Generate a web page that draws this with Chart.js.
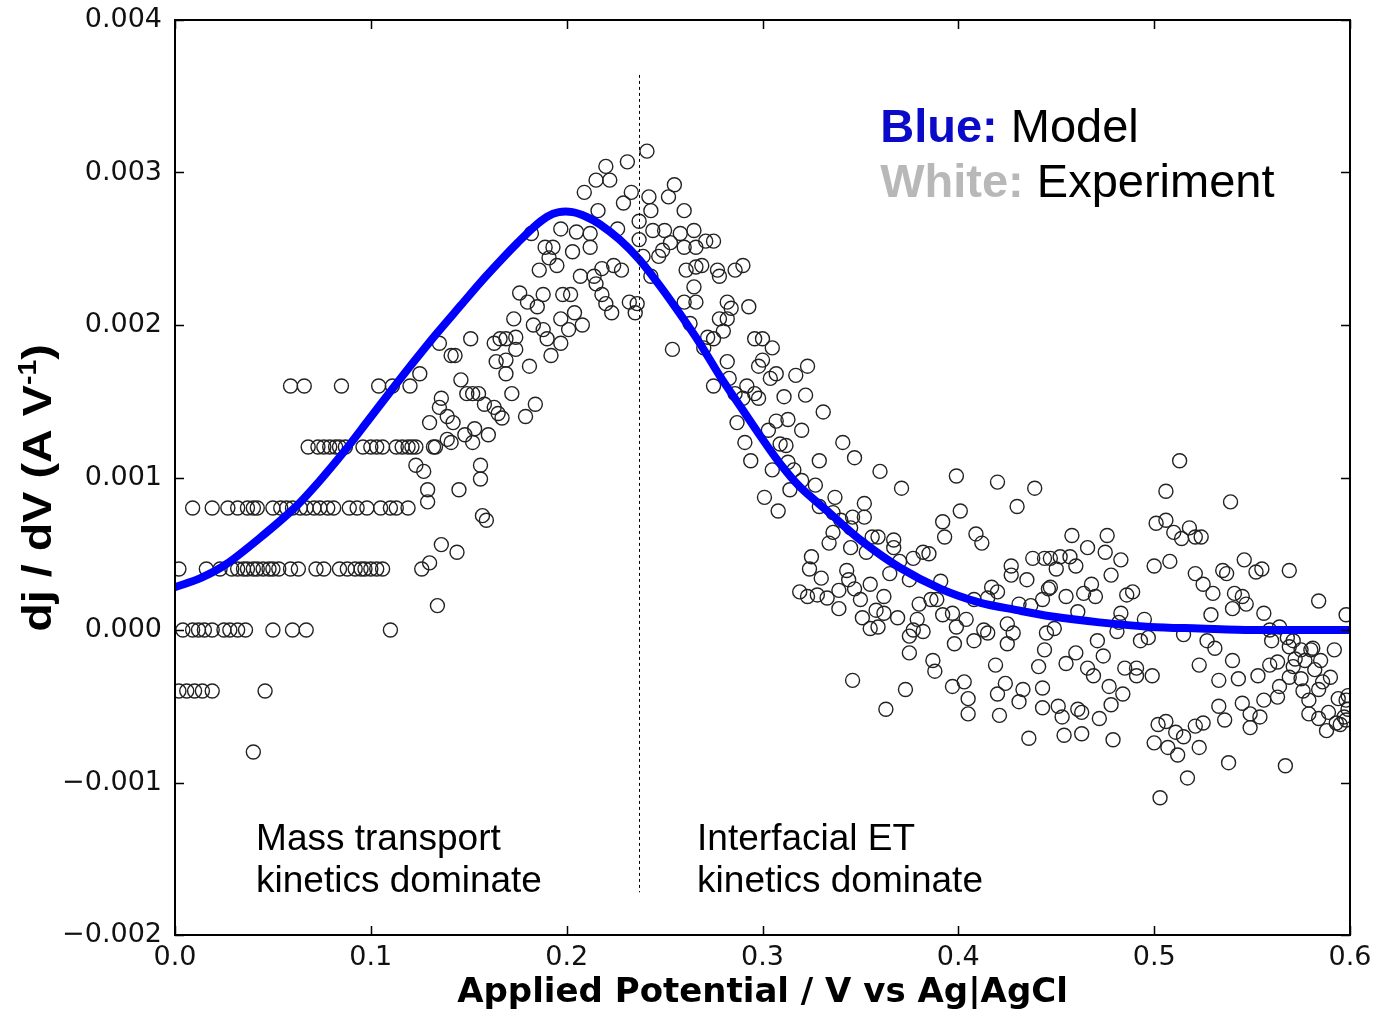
<!DOCTYPE html>
<html>
<head>
<meta charset="utf-8">
<title>dj/dV vs Applied Potential</title>
<script src="https://cdn.jsdelivr.net/npm/chart.js@4.4.1/dist/chart.umd.min.js"></script>
<style>
  html, body { margin: 0; padding: 0; background: #fff; }
  #wrap { width: 1375px; height: 1009px; }
</style>
</head>
<body>
<div id="wrap"><canvas id="grafico" width="1375" height="1009"></canvas></div>
<script>
'use strict';

// ---- datos ----

// curva del modelo (linea azul)
const modelPotential = [0.000, 0.013, 0.026, 0.043, 0.061, 0.074, 0.087, 0.099, 0.111, 0.122,
    0.134, 0.146, 0.156, 0.166, 0.175, 0.183, 0.190, 0.196, 0.203, 0.210,
    0.217, 0.227, 0.237, 0.248, 0.258, 0.268, 0.278, 0.289, 0.299, 0.309,
    0.319, 0.334, 0.350, 0.370, 0.391, 0.411, 0.430, 0.447, 0.472, 0.498,
    0.523, 0.550, 0.600];
const modelDjdv = [0.00028, 0.00034, 0.00043, 0.00060, 0.00080, 0.00098, 0.00118, 0.00138, 0.00158, 0.00176,
    0.00195, 0.00213, 0.00228, 0.00242, 0.00254, 0.00264, 0.00271, 0.00274, 0.00274, 0.00271,
    0.00266, 0.00256, 0.00243, 0.00225, 0.00207, 0.00188, 0.00167, 0.00146, 0.00127, 0.00109,
    0.00094, 0.00077, 0.00059, 0.00041, 0.00027, 0.00018, 0.00013, 0.00009, 0.00005, 0.00002,
    0.00001, 0.00000, 0.00000];

// puntos experimentales que caen en los escalones de corriente (potencial bajo)
const stepLevels = [0.0016, 0.0012, 0.0008, 0.0004, 0.0, -0.0004, -0.0008];
const stepPotentials = [
    [0.059, 0.066, 0.085, 0.104, 0.111, 0.120],
    [0.068, 0.073, 0.076, 0.079, 0.082, 0.084, 0.087, 0.096, 0.100, 0.103, 0.106, 0.113, 0.116, 0.119, 0.121, 0.123, 0.133],
    [0.009, 0.019, 0.027, 0.032, 0.037, 0.040, 0.042, 0.050, 0.054, 0.057, 0.060, 0.064, 0.067, 0.071, 0.074, 0.078, 0.081, 0.089, 0.093, 0.098, 0.105, 0.110, 0.113, 0.119],
    [0.002, 0.016, 0.023, 0.029, 0.032, 0.035, 0.037, 0.040, 0.042, 0.045, 0.048, 0.050, 0.053, 0.059, 0.063, 0.072, 0.076, 0.084, 0.088, 0.092, 0.095, 0.097, 0.100, 0.103, 0.106],
    [0.004, 0.009, 0.012, 0.015, 0.019, 0.025, 0.028, 0.032, 0.036, 0.050, 0.060, 0.067, 0.110],
    [0.002, 0.006, 0.010, 0.014, 0.019, 0.046],
    [0.040]
];

// resto de puntos experimentales [potencial, dj/dV]
const expRising = [
    [0.220, 0.00304], [0.231, 0.00307], [0.241, 0.00314], [0.215, 0.00295], [0.222, 0.00295],
    [0.209, 0.00287], [0.216, 0.00275], [0.233, 0.00287], [0.229, 0.00280], [0.242, 0.00284],
    [0.255, 0.00292], [0.252, 0.00284], [0.243, 0.00275], [0.260, 0.00275], [0.182, 0.00260],
    [0.197, 0.00263], [0.205, 0.00261], [0.212, 0.00260], [0.189, 0.00251], [0.193, 0.00251],
    [0.203, 0.00248], [0.212, 0.00251], [0.226, 0.00263], [0.237, 0.00268], [0.237, 0.00256],
    [0.244, 0.00262], [0.250, 0.00262], [0.258, 0.00260], [0.265, 0.00262], [0.260, 0.00251],
    [0.266, 0.00251], [0.191, 0.00244], [0.195, 0.00239], [0.186, 0.00236], [0.207, 0.00232],
    [0.214, 0.00232], [0.218, 0.00237], [0.224, 0.00239], [0.228, 0.00236], [0.215, 0.00227],
    [0.239, 0.00245], [0.247, 0.00245], [0.249, 0.00249], [0.253, 0.00254], [0.243, 0.00232],
    [0.261, 0.00236], [0.266, 0.00238], [0.176, 0.00221], [0.188, 0.00220], [0.198, 0.00220],
    [0.202, 0.00220], [0.180, 0.00215], [0.185, 0.00212], [0.218, 0.00220], [0.220, 0.00214],
    [0.223, 0.00208], [0.232, 0.00215], [0.236, 0.00214], [0.235, 0.00208], [0.254, 0.00184],
    [0.260, 0.00215], [0.265, 0.00225], [0.266, 0.00215], [0.263, 0.00201], [0.173, 0.00204],
    [0.183, 0.00200], [0.188, 0.00197], [0.190, 0.00191], [0.197, 0.00204], [0.204, 0.00208],
    [0.201, 0.00197], [0.208, 0.00200], [0.197, 0.00188], [0.192, 0.00180], [0.163, 0.00188],
    [0.166, 0.00191], [0.169, 0.00191], [0.174, 0.00192], [0.174, 0.00184], [0.164, 0.00176],
    [0.169, 0.00177], [0.169, 0.00168], [0.181, 0.00173], [0.151, 0.00191], [0.135, 0.00188],
    [0.141, 0.00180], [0.143, 0.00180], [0.125, 0.00168], [0.146, 0.00164], [0.149, 0.00155],
    [0.152, 0.00155], [0.155, 0.00155], [0.172, 0.00155], [0.158, 0.00148], [0.163, 0.00146],
    [0.165, 0.00142], [0.167, 0.00139], [0.179, 0.00140], [0.184, 0.00148], [0.136, 0.00152],
    [0.135, 0.00146], [0.139, 0.00140], [0.142, 0.00136], [0.130, 0.00136], [0.153, 0.00132],
    [0.148, 0.00128], [0.152, 0.00123], [0.141, 0.00123], [0.160, 0.00128], [0.132, 0.00120],
    [0.123, 0.00108], [0.127, 0.00104], [0.156, 0.00108], [0.156, 0.00099], [0.129, 0.00092],
    [0.129, 0.00084], [0.145, 0.00092], [0.157, 0.00075], [0.159, 0.00072], [0.136, 0.00056],
    [0.144, 0.00051], [0.126, 0.00040], [0.130, 0.00044], [0.134, 0.00016], [0.139, 0.00125]
];

const expFalling = [
    [0.271, 0.00255], [0.275, 0.00255], [0.269, 0.00239], [0.277, 0.00236], [0.278, 0.00232],
    [0.286, 0.00236], [0.290, 0.00239], [0.282, 0.00215], [0.284, 0.00211], [0.293, 0.00212],
    [0.278, 0.00204], [0.282, 0.00204], [0.280, 0.00196], [0.272, 0.00192], [0.275, 0.00191],
    [0.270, 0.00185], [0.296, 0.00191], [0.300, 0.00191], [0.305, 0.00185], [0.282, 0.00176],
    [0.298, 0.00173], [0.300, 0.00177], [0.304, 0.00165], [0.307, 0.00168], [0.317, 0.00167],
    [0.323, 0.00173], [0.283, 0.00165], [0.275, 0.00160], [0.292, 0.00160], [0.296, 0.00155],
    [0.290, 0.00152], [0.298, 0.00152], [0.286, 0.00155], [0.311, 0.00153], [0.322, 0.00154],
    [0.331, 0.00143], [0.287, 0.00136], [0.303, 0.00131], [0.307, 0.00137], [0.313, 0.00138],
    [0.320, 0.00131], [0.291, 0.00123], [0.309, 0.00122], [0.312, 0.00121], [0.341, 0.00123],
    [0.294, 0.00111], [0.305, 0.00105], [0.313, 0.00110], [0.316, 0.00105], [0.329, 0.00111],
    [0.347, 0.00113], [0.327, 0.00095], [0.320, 0.00098], [0.314, 0.00092], [0.337, 0.00087],
    [0.301, 0.00087], [0.308, 0.00078], [0.329, 0.00081], [0.336, 0.00077], [0.346, 0.00074]
];

const expTail = [
    [0.360, 0.00104], [0.371, 0.00093], [0.399, 0.00101], [0.420, 0.00097], [0.439, 0.00093],
    [0.352, 0.00083], [0.352, 0.00074], [0.340, 0.00072], [0.345, 0.00067], [0.392, 0.00071],
    [0.393, 0.00061], [0.401, 0.00078], [0.409, 0.00063], [0.412, 0.00057], [0.430, 0.00081],
    [0.334, 0.00057], [0.336, 0.00064], [0.345, 0.00054], [0.356, 0.00061], [0.359, 0.00061],
    [0.353, 0.00051], [0.367, 0.00059], [0.367, 0.00054], [0.377, 0.00047], [0.382, 0.00051],
    [0.385, 0.00050], [0.370, 0.00045], [0.365, 0.00037], [0.375, 0.00033], [0.391, 0.00032],
    [0.325, 0.00048], [0.324, 0.00040], [0.330, 0.00034], [0.319, 0.00025], [0.323, 0.00022],
    [0.328, 0.00023], [0.333, 0.00021], [0.339, 0.00026], [0.339, 0.00014], [0.343, 0.00039],
    [0.344, 0.00033], [0.347, 0.00027], [0.350, 0.00020], [0.355, 0.00030], [0.362, 0.00022],
    [0.358, 0.00013], [0.362, 0.00011], [0.351, 0.00008], [0.355, 0.00001], [0.359, 0.00002],
    [0.369, 0.00008], [0.380, 0.00017], [0.386, 0.00020], [0.389, 0.00020], [0.379, 0.00007],
    [0.377, 0.00000], [0.375, -0.00004], [0.382, -0.00001], [0.392, 0.00010], [0.397, 0.00011],
    [0.399, 0.00002], [0.404, 0.00007], [0.398, -0.00009], [0.408, -0.00007], [0.413, 0.00000],
    [0.415, -0.00002], [0.417, 0.00028], [0.425, 0.00004], [0.428, -0.00002], [0.425, -0.00009],
    [0.427, 0.00042], [0.427, 0.00036], [0.435, 0.00033], [0.438, 0.00047], [0.375, -0.00015],
    [0.387, -0.00020], [0.388, -0.00027], [0.346, -0.00033], [0.373, -0.00039], [0.363, -0.00052],
    [0.397, -0.00037], [0.403, -0.00034], [0.405, -0.00045], [0.405, -0.00055], [0.419, -0.00023],
    [0.420, -0.00042], [0.424, -0.00035], [0.421, -0.00056], [0.431, -0.00047], [0.433, -0.00039],
    [0.436, -0.00071], [0.441, -0.00024], [0.443, -0.00038], [0.443, -0.00051], [0.445, -0.00002],
    [0.444, -0.00013], [0.446, 0.00027], [0.443, 0.00020], [0.444, 0.00047], [0.420, 0.00025],
    [0.415, 0.00021], [0.431, 0.00017], [0.437, 0.00016], [0.408, 0.00020]
];

const expFlat = [
    [0.513, 0.00111], [0.506, 0.00091], [0.539, 0.00084], [0.458, 0.00062], [0.476, 0.00062],
    [0.466, 0.00054], [0.475, 0.00051], [0.483, 0.00046], [0.478, 0.00036], [0.501, 0.00070],
    [0.506, 0.00072], [0.510, 0.00064], [0.514, 0.00060], [0.518, 0.00067], [0.521, 0.00061],
    [0.524, 0.00061], [0.500, 0.00042], [0.508, 0.00045], [0.447, 0.00047], [0.452, 0.00048],
    [0.457, 0.00048], [0.450, 0.00040], [0.460, 0.00042], [0.447, 0.00028], [0.455, 0.00022],
    [0.464, 0.00024], [0.468, 0.00030], [0.470, 0.00022], [0.486, 0.00023], [0.489, 0.00025],
    [0.461, 0.00012], [0.449, 0.00001], [0.482, 0.00005], [0.483, 0.00011], [0.481, -0.00001],
    [0.471, -0.00007], [0.493, -0.00007], [0.497, -0.00005], [0.495, 0.00007], [0.515, -0.00003],
    [0.527, -0.00007], [0.531, -0.00012], [0.529, 0.00010], [0.460, -0.00015], [0.455, -0.00022],
    [0.474, -0.00017], [0.466, -0.00025], [0.469, -0.00030], [0.485, -0.00025], [0.491, -0.00025],
    [0.491, -0.00030], [0.499, -0.00030], [0.523, -0.00023], [0.533, -0.00033], [0.543, -0.00032],
    [0.540, -0.00020], [0.553, -0.00030], [0.559, -0.00023], [0.563, -0.00021], [0.564, -0.00037],
    [0.563, -0.00044], [0.569, -0.00031], [0.572, -0.00019], [0.575, -0.00032], [0.581, -0.00012],
    [0.585, -0.00020], [0.592, -0.00013], [0.576, -0.00040], [0.579, -0.00046], [0.586, -0.00034],
    [0.590, -0.00031], [0.579, -0.00055], [0.584, -0.00058], [0.589, -0.00054], [0.594, -0.00045],
    [0.597, -0.00057], [0.593, -0.00061], [0.588, -0.00066], [0.599, -0.00052], [0.584, 0.00019],
    [0.598, 0.00010], [0.451, -0.00050], [0.453, -0.00057], [0.461, -0.00052], [0.463, -0.00054],
    [0.454, -0.00069], [0.463, -0.00068], [0.472, -0.00058], [0.477, -0.00037], [0.478, -0.00049],
    [0.484, -0.00042], [0.479, -0.00072], [0.500, -0.00074], [0.502, -0.00062], [0.506, -0.00060],
    [0.507, -0.00077], [0.511, -0.00067], [0.512, -0.00082], [0.515, -0.00070], [0.521, -0.00063],
    [0.525, -0.00061], [0.523, -0.00077], [0.517, -0.00097], [0.503, -0.00110], [0.533, -0.00050],
    [0.536, -0.00059], [0.545, -0.00048], [0.549, -0.00055], [0.554, -0.00057], [0.549, -0.00064],
    [0.556, -0.00046], [0.538, -0.00087], [0.567, -0.00089], [0.521, 0.00037], [0.525, 0.00030],
    [0.530, 0.00024], [0.535, 0.00039], [0.537, 0.00037], [0.541, 0.00024], [0.545, 0.00022],
    [0.547, 0.00017], [0.540, 0.00014], [0.546, 0.00046], [0.552, 0.00038], [0.555, 0.00040],
    [0.569, 0.00039], [0.556, 0.00011], [0.559, 0.00000], [0.564, 0.00002], [0.560, -0.00007],
    [0.568, -0.00005], [0.569, -0.00011], [0.575, -0.00013], [0.580, -0.00013], [0.599, -0.00043],
    [0.571, -0.00007], [0.577, -0.00020], [0.571, -0.00024], [0.582, -0.00026], [0.584, -0.00039],
    [0.598, -0.00059], [0.598, -0.00046], [0.595, -0.00062]
];

const xTicks = [0.0, 0.1, 0.2, 0.3, 0.4, 0.5, 0.6];
const yTicks = [-0.002, -0.001, 0.000, 0.001, 0.002, 0.003, 0.004];

// linea que separa los dos regimenes
const limiteRegimen = 0.237;
const limiteArriba = 0.00364;
const limiteAbajo = -0.00172;

// ---- armado de series ----

const puntosModelo = modelPotential.map((v, i) => ({ x: v, y: modelDjdv[i] }));

const puntosExp = [];
stepLevels.forEach((nivel, i) => {
    stepPotentials[i].forEach(v => puntosExp.push({ x: v, y: nivel }));
});
[expRising, expFalling, expTail, expFlat].forEach(grupo => {
    grupo.forEach(p => puntosExp.push({ x: p[0], y: p[1] }));
});

const fmtY = (v) => {
    let s = (Math.abs(v) < 1e-9 ? 0 : v).toFixed(3);
    return s.replace('-', '\u2212');
};

const dibujarTituloY = (ctx, cx, cy) => {
    const fBase = 'bold 41px "Liberation Sans", Arial, sans-serif';
    const fSup = 'bold 25px "Liberation Sans", Arial, sans-serif';
    ctx.save();
    ctx.translate(cx, cy);
    ctx.rotate(-Math.PI / 2);
    ctx.scale(1.14, 1);
    ctx.fillStyle = '#000';
    ctx.textBaseline = 'alphabetic';
    ctx.textAlign = 'left';
    ctx.font = fBase;
    let w1 = ctx.measureText('dj / dV (A V').width;
    let w3 = ctx.measureText(')').width;
    ctx.font = fSup;
    let w2 = ctx.measureText('-1').width;
    let x = -(w1 + w2 + w3) / 2;
    ctx.font = fBase;
    ctx.fillText('dj / dV (A V', x, 0);
    x += w1;
    ctx.font = fSup;
    ctx.fillText('-1', x, -15);
    x += w2;
    ctx.font = fBase;
    ctx.fillText(')', x, 0);
    ctx.restore();
};

const marcoPlugin = {
    id: 'marco',
    afterDatasetsDraw(chart) {
        const ctx = chart.ctx;
        const area = chart.chartArea;
        const sx = chart.scales.x;
        const sy = chart.scales.y;
        ctx.save();

        // separacion entre regimenes
        let bx = Math.round(sx.getPixelForValue(limiteRegimen)) + 0.5;
        ctx.strokeStyle = '#000';
        ctx.lineWidth = 1;
        ctx.setLineDash([3, 3]);
        ctx.beginPath();
        ctx.moveTo(bx, sy.getPixelForValue(limiteArriba));
        ctx.lineTo(bx, sy.getPixelForValue(limiteAbajo));
        ctx.stroke();
        ctx.setLineDash([]);

        // marcas hacia adentro en los cuatro lados
        ctx.lineWidth = 1.5;
        ctx.beginPath();
        xTicks.forEach(v => {
            let px = Math.round(sx.getPixelForValue(v)) + 0.5;
            ctx.moveTo(px, area.bottom); ctx.lineTo(px, area.bottom - 9);
            ctx.moveTo(px, area.top); ctx.lineTo(px, area.top + 9);
        });
        yTicks.forEach(v => {
            let py = Math.round(sy.getPixelForValue(v)) + 0.5;
            ctx.moveTo(area.left, py); ctx.lineTo(area.left + 9, py);
            ctx.moveTo(area.right, py); ctx.lineTo(area.right - 9, py);
        });
        ctx.stroke();

        // marco
        ctx.lineWidth = 2;
        ctx.strokeRect(area.left, area.top, area.right - area.left, area.bottom - area.top);

        // textos de las regiones
        ctx.fillStyle = '#000';
        ctx.textAlign = 'left';
        ctx.textBaseline = 'alphabetic';
        ctx.font = '37px "Liberation Sans", Arial, sans-serif';
        let xi = sx.getPixelForValue(0.0414);
        let xd = sx.getPixelForValue(0.2666);
        let y1 = sy.getPixelForValue(-0.00144);
        let y2 = sy.getPixelForValue(-0.00172);
        ctx.fillText('Mass transport', xi, y1);
        ctx.fillText('kinetics dominate', xi, y2);
        ctx.fillText('Interfacial ET', xd, y1);
        ctx.fillText('kinetics dominate', xd, y2);

        // leyenda escrita
        let xl = sx.getPixelForValue(0.3601);
        let ya = sy.getPixelForValue(0.00320);
        let yb = sy.getPixelForValue(0.00284);
        ctx.font = 'bold 47px "Liberation Sans", Arial, sans-serif';
        ctx.fillStyle = '#0a0ac8';
        ctx.fillText('Blue:', xl, ya);
        let wa = ctx.measureText('Blue: ').width;
        ctx.fillStyle = '#b8b8b8';
        ctx.fillText('White:', xl, yb);
        let wb = ctx.measureText('White: ').width;
        ctx.font = '47px "Liberation Sans", Arial, sans-serif';
        ctx.fillStyle = '#000';
        ctx.fillText('Model', xl + wa, ya);
        ctx.fillText('Experiment', xl + wb, yb);

        // titulos de ejes
        ctx.font = 'bold 34px "DejaVu Sans", sans-serif';
        ctx.textAlign = 'center';
        ctx.fillText('Applied Potential / V vs Ag|AgCl', (area.left + area.right) / 2, 1002);
        ctx.restore();

        dibujarTituloY(ctx, 51, 488);
    }
};

Chart.defaults.font.family = '"DejaVu Sans", sans-serif';
Chart.defaults.color = '#111';

new Chart(document.getElementById('grafico'), {
    type: 'scatter',
    data: {
        datasets: [{
            label: 'Model',
            data: puntosModelo,
            showLine: true,
            borderColor: '#0000ff',
            borderWidth: 8,
            pointRadius: 0,
            tension: 0.3,
            clip: 0,
            order: 0
        }, {
            label: 'Experiment',
            data: puntosExp,
            pointRadius: 7,
            pointHoverRadius: 7,
            pointBorderWidth: 1.4,
            pointBorderColor: '#222',
            pointBackgroundColor: 'rgba(0,0,0,0)',
            clip: 0,
            order: 1
        }]
    },
    options: {
        responsive: false,
        animation: false,
        devicePixelRatio: 1,
        layout: { padding: { left: 0, right: 25, top: 20, bottom: 0 } },
        plugins: {
            legend: { display: false },
            tooltip: { enabled: false }
        },
        scales: {
            x: {
                type: 'linear',
                min: 0,
                max: 0.6,
                grid: { display: false, drawTicks: false },
                border: { display: false },
                afterBuildTicks: (scale) => { scale.ticks = xTicks.map(v => ({ value: v })); },
                afterFit: (scale) => {
                    scale.height = 74;
                    scale.paddingLeft = 0;
                    scale.paddingRight = 0;
                },
                ticks: {
                    padding: 7,
                    font: { size: 27 },
                    maxRotation: 0,
                    callback: (v) => Number(v).toFixed(1)
                }
            },
            y: {
                type: 'linear',
                min: -0.002,
                max: 0.004,
                grid: { display: false, drawTicks: false },
                border: { display: false },
                afterBuildTicks: (scale) => { scale.ticks = yTicks.map(v => ({ value: v })); },
                afterFit: (scale) => {
                    scale.width = 175;
                    scale.paddingTop = 0;
                    scale.paddingBottom = 0;
                },
                ticks: {
                    padding: 13,
                    font: { size: 27 },
                    callback: (v) => fmtY(v)
                }
            }
        }
    },
    plugins: [marcoPlugin]
});
</script>
</body>
</html>
